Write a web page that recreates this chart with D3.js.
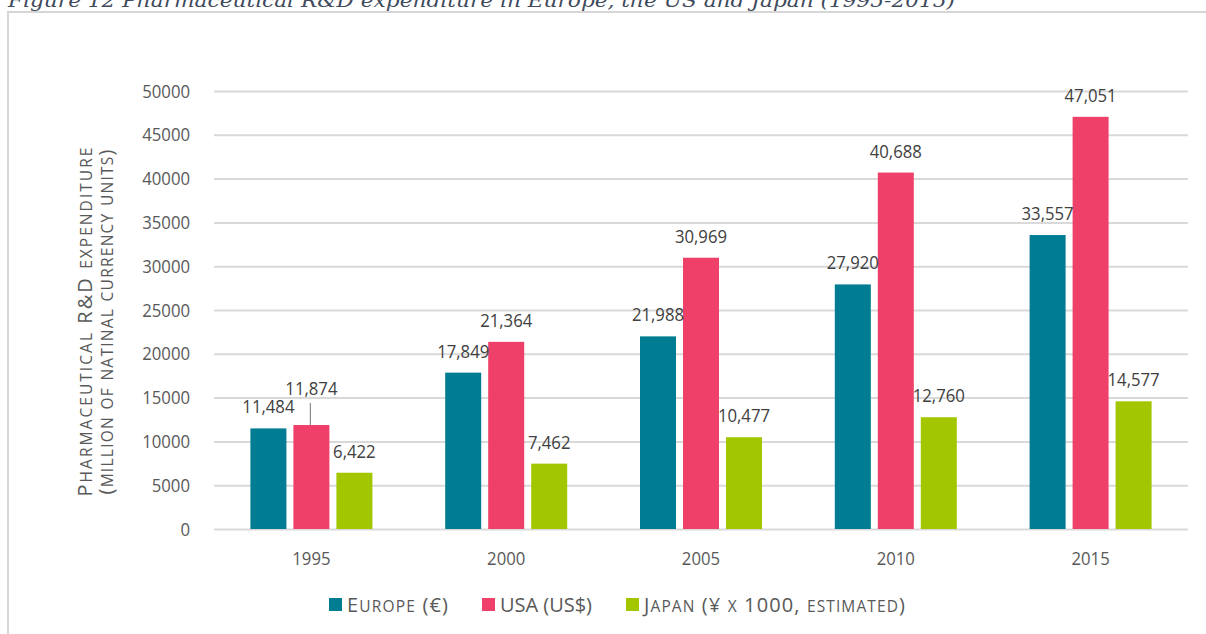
<!DOCTYPE html>
<html>
<head>
<meta charset="utf-8">
<script src="https://cdn.jsdelivr.net/npm/d3@7/dist/d3.min.js"></script>
<style>
  html, body { margin: 0; padding: 0; background: #ffffff; }
  svg { display: block; }
</style>
</head>
<body>
<svg id="chart" width="1206" height="634"></svg>
<script>
// ---- data ----
const title = "Figure 12 Pharmaceutical R&D expenditure in Europe, the US and Japan (1995-2015)";
const categories = ["1995", "2000", "2005", "2010", "2015"];
const seriesNames = ["Europe (€)", "USA (US$)", "Japan (¥ x 1000, estimated)"];
const europe = [11484, 17849, 21988, 27920, 33557];
const usa = [11874, 21364, 30969, 40688, 47051];
const japan = [6422, 7462, 10477, 12760, 14577];
const yTicks = [0, 5000, 10000, 15000, 20000, 25000, 30000, 35000, 40000, 45000, 50000];
const yLabelLines = ["Pharmaceutical R&D expenditure", "(million of natinal currency units)"];

// ---- styling ----
const colors = ["#007c93", "#ee4069", "#a2c600"];
const values = [europe, usa, japan];
const FONT = "'Open Sans', sans-serif";

// horizontally condense text to mimic the narrower original face
function condense(sel, f) {
  sel.each(function () {
    const len = this.getComputedTextLength();
    d3.select(this).attr("textLength", len * f).attr("lengthAdjust", "spacingAndGlyphs");
  });
}

// small caps built from tspans: lowercase letters drawn as smaller capitals
function smallCaps(textSel, str, big, small) {
  const runs = [];
  for (const ch of str) {
    const isLower = ch !== ch.toUpperCase();
    const size = isLower ? small : big;
    const last = runs[runs.length - 1];
    if (last && last.size === size) last.t += ch.toUpperCase();
    else runs.push({ size, t: ch.toUpperCase() });
  }
  runs.forEach(r => textSel.append("tspan").attr("font-size", r.size).text(r.t));
}

const svg = d3.select("#chart");
const margin = { left: 214, right: 1188, top: 91, bottom: 529 };

// frame
svg.append("rect")
  .attr("x", 8).attr("y", 12)
  .attr("width", 1240).attr("height", 700)
  .attr("fill", "#ffffff")
  .attr("stroke", "#d6d6d6").attr("stroke-width", 2);

// title
svg.append("text")
  .attr("x", 8).attr("y", 7)
  .attr("font-family", "'DejaVu Serif', 'Liberation Serif', serif")
  .attr("font-style", "italic")
  .attr("font-size", 19)
  .attr("fill", "#3f4b5d")
  .attr("textLength", 947)
  .attr("lengthAdjust", "spacingAndGlyphs")
  .text(title);

const x0 = d3.scaleBand().domain(categories).range([margin.left, margin.right]).padding(0);
const barW = 36, barGap = 7;
const groupW = barW * 3 + barGap * 2;
const x1 = d3.scaleBand().domain(d3.range(3)).range([0, groupW]).paddingInner(barGap / (barW + barGap)).paddingOuter(0);

const y = d3.scaleLinear().domain([0, 50000]).range([margin.bottom, margin.top]);

// gridlines via axis
const yAxis = d3.axisLeft(y).tickValues(yTicks).tickSize(-(margin.right - margin.left)).tickFormat(d => d);
const gy = svg.append("g").attr("transform", `translate(${margin.left},0)`).call(yAxis);
gy.select(".domain").remove();
gy.selectAll(".tick line").attr("stroke", "#d9d9d9").attr("stroke-width", 2);
gy.selectAll(".tick text")
  .attr("x", -24)
  .attr("font-family", FONT)
  .attr("font-size", 19)
  .attr("fill", "#595959")
  .call(condense, 0.88);

// x axis labels
const xAxis = d3.axisBottom(x0).tickSize(0).tickPadding(0);
const gx = svg.append("g").attr("transform", `translate(0,${margin.bottom})`).call(xAxis);
gx.select(".domain").remove();
gx.selectAll(".tick text")
  .attr("y", 36)
  .attr("dy", 0)
  .attr("font-family", FONT)
  .attr("font-size", 19)
  .attr("fill", "#595959")
  .call(condense, 0.88);

// bars
const barData = [];
categories.forEach((c, i) => {
  values.forEach((arr, s) => barData.push({ cat: c, s, v: arr[i] }));
});

const barX = d => x0(d.cat) + x0.bandwidth() / 2 - groupW / 2 + x1(d.s);

svg.append("g").selectAll("rect").data(barData).join("rect")
  .attr("x", barX)
  .attr("y", d => y(d.v))
  .attr("width", x1.bandwidth())
  .attr("height", d => y(0) - y(d.v))
  .attr("fill", d => colors[d.s]);

// data labels (one label lifted with a leader line, as in the source)
const lifted = d => d.cat === "1995" && d.s === 1;
const fmt = d3.format(",");
const lg = svg.append("g");
lg.selectAll("text").data(barData).join("text")
  .attr("x", d => barX(d) + x1.bandwidth() / 2)
  .attr("y", d => y(d.v) - (lifted(d) ? 30 : 15))
  .attr("text-anchor", "middle")
  .attr("font-family", FONT)
  .attr("font-size", 19)
  .attr("fill", "#404040")
  .text(d => fmt(d.v))
  .call(condense, 0.88);
lg.selectAll("line").data(barData.filter(lifted)).join("line")
  .attr("x1", d => barX(d) + x1.bandwidth() / 2 - 1)
  .attr("x2", d => barX(d) + x1.bandwidth() / 2 - 1)
  .attr("y1", d => y(d.v) - 22)
  .attr("y2", d => y(d.v))
  .attr("stroke", "#8c8c8c").attr("stroke-width", 1.2);

// y axis title
const yLabelLen = [349, 345];
const yt = svg.append("g").attr("transform", "translate(0,322) rotate(-90)");
yLabelLines.forEach((t, i) => {
  const el = yt.append("text")
    .attr("x", 0).attr("y", 92 + i * 21)
    .attr("text-anchor", "middle")
    .attr("font-family", FONT)
    .attr("fill", "#595959")
    .attr("textLength", yLabelLen[i])
    .attr("lengthAdjust", "spacing");
  smallCaps(el, t, 20, 15.5);
});

// legend
const legTextLen = [101, 92, 261];
const leg = svg.append("g");
const items = seriesNames.map((n, i) => {
  const g = leg.append("g");
  g.append("rect").attr("x", 0).attr("y", -14).attr("width", 13).attr("height", 13).attr("fill", colors[i]);
  const el = g.append("text").attr("x", 18).attr("y", 0)
    .attr("font-family", FONT)
    .attr("fill", "#595959")
    .attr("textLength", legTextLen[i])
    .attr("lengthAdjust", "spacing");
  smallCaps(el, n, 20, 15.5);
  return { g, w: 18 + legTextLen[i] };
});
const legGap = 34;
const totalW = d3.sum(items, d => d.w) + legGap * (items.length - 1);
let lx = 617 - totalW / 2;
items.forEach(it => { it.g.attr("transform", `translate(${lx},612)`); lx += it.w + legGap; });
</script>
</body>
</html>
